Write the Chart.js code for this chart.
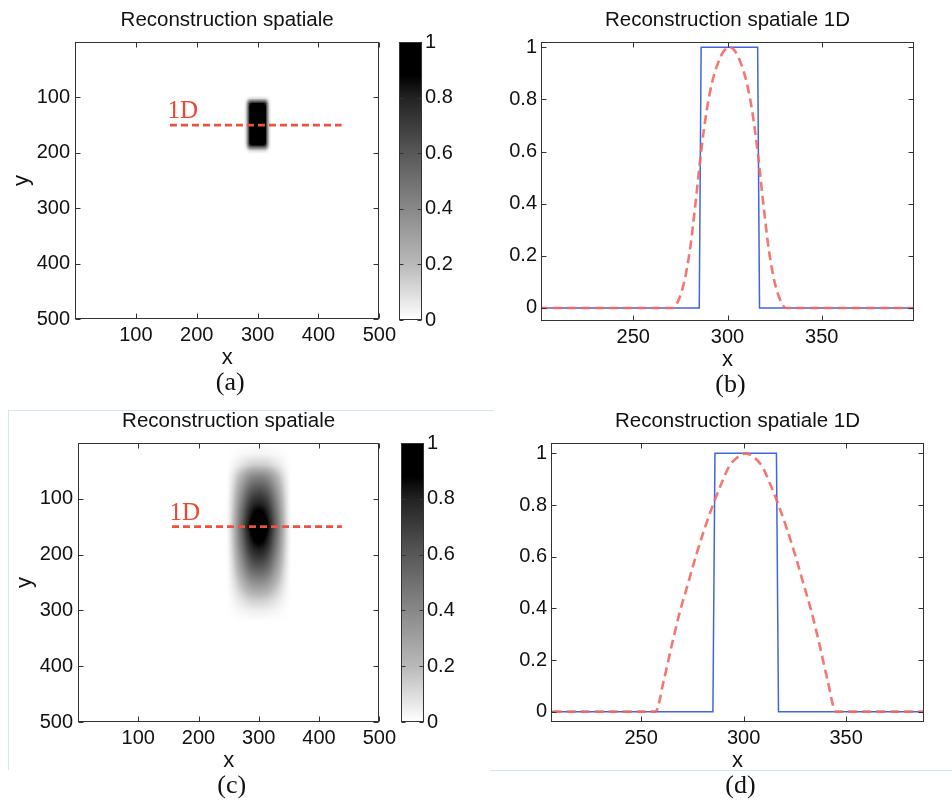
<!DOCTYPE html>
<html>
<head>
<meta charset="utf-8">
<title>Reconstruction spatiale</title>
<script src="https://cdn.jsdelivr.net/npm/chart.js@4.4.1/dist/chart.umd.min.js"></script>
<style>
  body { margin: 0; background: #fff; }
  #fig { position: relative; width: 952px; height: 800px; overflow: hidden; }
  #fig canvas { position: absolute; }
  .rule { position: absolute; background: #d3e6f1; }
</style>
</head>
<body>
<div id="fig">
  <div class="rule" style="left:8px;top:410px;width:486px;height:1px"></div>
  <div class="rule" style="left:8px;top:410px;width:1px;height:360px"></div>
  <div class="rule" style="left:490px;top:770px;width:462px;height:1px"></div>
  <canvas id="imgA" width="400" height="400" style="left:0;top:0"></canvas>
  <canvas id="barA" width="70" height="400" style="left:399px;top:0"></canvas>
  <canvas id="cutB" width="472" height="400" style="left:480px;top:0"></canvas>
  <canvas id="imgC" width="400" height="400" style="left:0;top:400px"></canvas>
  <canvas id="barC" width="70" height="400" style="left:401px;top:400px"></canvas>
  <canvas id="cutD" width="472" height="400" style="left:480px;top:400px"></canvas>
</div>
<script>
// ticks
const imgTicks = [100, 200, 300, 400, 500];
const cbarTicks = [0, 0.2, 0.4, 0.6, 0.8, 1];
const cutXTicks = [250, 300, 350];
const cutYTicks = [0, 0.2, 0.4, 0.6, 0.8, 1];

// dashed "1D" cut drawn on the images
const cutLineX = [156, 438];
const cutLineY = [150, 150];
const cutLabelAt = [152, 138];

// original object, 1D (blue)
const objX = [200, 285, 286, 316, 317, 400];
const objV = [0, 0, 1, 1, 0, 0];

// reconstruction 1D (b)
const bRedX = [200, 271, 274, 277, 280, 283, 286, 289, 292, 295, 298, 301, 304, 307, 310, 313, 316, 319, 322, 325, 328, 331, 400];
const bRedV = [0, 0, 0.03, 0.1, 0.22, 0.4, 0.6, 0.76, 0.87, 0.94, 0.985, 1, 0.985, 0.94, 0.87, 0.76, 0.6, 0.4, 0.22, 0.1, 0.03, 0, 0];

// reconstruction 1D (d)
const dRedX = [200, 257, 261, 265, 269, 273, 277, 281, 285, 289, 293, 297, 301, 305, 309, 313, 317, 321, 325, 329, 333, 337, 341, 345, 400];
const dRedV = [0, 0, 0.12, 0.26, 0.39, 0.5, 0.61, 0.71, 0.8, 0.88, 0.95, 0.985, 1, 0.985, 0.95, 0.88, 0.8, 0.71, 0.61, 0.5, 0.39, 0.26, 0.12, 0, 0];

// image (a): profiles along x and y
const aImgX = [277, 281, 284, 287, 291, 309, 313, 316, 319, 323];
const aImgXV = [0, 0.1, 0.45, 0.88, 1, 1, 0.88, 0.45, 0.1, 0];
const aImgY = [97, 102, 106, 111, 116, 182, 186, 191, 196, 202];
const aImgYV = [0, 0.1, 0.45, 0.88, 1, 1, 0.88, 0.45, 0.1, 0];

const cImgX = [246, 250, 256, 262, 268, 274, 280, 286, 292, 300, 308, 314, 320, 326, 332, 338, 344, 350, 354];
const cImgXV = [0, 0.04, 0.15, 0.3, 0.47, 0.62, 0.78, 0.9, 0.97, 1, 0.97, 0.9, 0.78, 0.62, 0.47, 0.3, 0.15, 0.04, 0];
const cImgY = [0, 20, 40, 60, 80, 100, 120, 150, 180, 200, 220, 240, 260, 280, 300, 320];
const cImgYV = [0, 0.03, 0.15, 0.42, 0.6, 0.75, 0.88, 1, 0.88, 0.76, 0.62, 0.46, 0.3, 0.15, 0.05, 0];

// grey colormap (value -> grey level)
const cmapV = [0, 0.2, 0.4, 0.6, 0.8, 0.88, 1];
const cmapG = [255, 185, 136, 88, 34, 0, 0];

Chart.defaults.font.family = '"Liberation Sans", Arial, sans-serif';
Chart.defaults.font.size = 20;
Chart.defaults.color = '#111';
Chart.defaults.animation = false;
Chart.defaults.plugins.legend.display = false;
Chart.defaults.plugins.tooltip.enabled = false;

function lerp(xs, vs, x) {
  if (x <= xs[0]) return vs[0];
  if (x >= xs[xs.length - 1]) return vs[vs.length - 1];
  let i = 1;
  while (xs[i] < x) i++;
  const t = (x - xs[i - 1]) / (xs[i] - xs[i - 1]);
  return vs[i - 1] + t * (vs[i] - vs[i - 1]);
}
function grey(v) { return Math.round(lerp(cmapV, cmapG, v)); }
function toXY(xs, vs) { return xs.map((x, i) => ({ x: x, y: vs[i] })); }
function fixTicks(list) { return s => { s.ticks = list.map(v => ({ value: v })); }; }

const noGrid = { display: false, drawTicks: false };

// paints the image inside the chart area, pixel by pixel, from the scales
function imageLayer(px, pv, qy, qv) {
  return {
    id: 'imageLayer',
    beforeDatasetsDraw(chart) {
      const { ctx, chartArea: a, scales } = chart;
      const w = Math.round(a.right - a.left), h = Math.round(a.bottom - a.top);
      const off = document.createElement('canvas');
      off.width = w; off.height = h;
      const octx = off.getContext('2d');
      const img = octx.createImageData(w, h);
      const cols = [], rows = [];
      for (let i = 0; i < w; i++) cols.push(lerp(px, pv, scales.x.getValueForPixel(a.left + i + 0.5)));
      for (let j = 0; j < h; j++) rows.push(lerp(qy, qv, scales.y.getValueForPixel(a.top + j + 0.5)));
      for (let j = 0; j < h; j++) {
        for (let i = 0; i < w; i++) {
          const g = grey(rows[j] * cols[i]);
          const k = 4 * (j * w + i);
          img.data[k] = img.data[k + 1] = img.data[k + 2] = g;
          img.data[k + 3] = 255;
        }
      }
      octx.putImageData(img, 0, 0);
      ctx.drawImage(off, a.left, a.top);
    }
  };
}

// box, inward ticks on all sides, panel title and letter
function frame(opt) {
  return {
    id: 'frame',
    afterDatasetsDraw(chart) {
      const { ctx, chartArea: a, scales } = chart;
      const L = Math.round(a.left) + 0.5, R = Math.round(a.right) - 0.5;
      const T = Math.round(a.top) + 0.5, B = Math.round(a.bottom) - 0.5;
      const tl = opt.tick || 5;
      ctx.save();
      ctx.strokeStyle = '#333';
      ctx.lineWidth = 1;
      ctx.strokeRect(L, T, R - L, B - T);
      ctx.beginPath();
      if (scales.x && scales.x.options.display) {
        scales.x.ticks.forEach(t => {
          const p = Math.round(scales.x.getPixelForValue(t.value)) + 0.5;
          ctx.moveTo(p, B); ctx.lineTo(p, B - tl);
          ctx.moveTo(p, T); ctx.lineTo(p, T + tl);
        });
      }
      scales.y.ticks.forEach(t => {
        const p = Math.round(scales.y.getPixelForValue(t.value)) + 0.5;
        ctx.moveTo(L, p); ctx.lineTo(L + tl, p);
        ctx.moveTo(R, p); ctx.lineTo(R - tl, p);
      });
      ctx.stroke();
      const cx = (a.left + a.right) / 2;
      ctx.fillStyle = '#111';
      ctx.textAlign = 'center';
      ctx.textBaseline = 'middle';
      if (opt.title) {
        ctx.font = '20.5px "Liberation Sans", Arial, sans-serif';
        ctx.fillText(opt.title, cx, a.top - 22);
      }
      if (opt.letter) {
        ctx.font = '26px "Liberation Serif", "Times New Roman", serif';
        ctx.fillText(opt.letter, cx + 3, a.bottom + 64);
      }
      if (opt.cutLabel) {
        ctx.font = '25px "Liberation Serif", "Times New Roman", serif';
        ctx.fillStyle = 'rgb(236,72,52)';
        ctx.textAlign = 'left';
        ctx.textBaseline = 'alphabetic';
        ctx.fillText('1D', scales.x.getPixelForValue(cutLabelAt[0]), scales.y.getPixelForValue(cutLabelAt[1]));
      }
      ctx.restore();
    }
  };
}

function imagePanel(id, geo, prof, letter) {
  new Chart(document.getElementById(id), {
    type: 'line',
    data: {
      datasets: [{
        data: toXY(cutLineX, cutLineY),
        borderColor: 'rgb(236,82,64)',
        borderWidth: 2.8,
        borderDash: [7, 4],
        pointRadius: 0
      }]
    },
    options: {
      responsive: false,
      layout: { padding: { left: 0, right: geo.right, top: geo.top, bottom: geo.bottom } },
      scales: {
        x: {
          type: 'linear', min: 0, max: 500,
          grid: noGrid, border: { display: false },
          afterBuildTicks: fixTicks(imgTicks),
          afterFit: s => { s.height = 52; },
          ticks: { padding: 4, maxRotation: 0, autoSkip: false },
          title: { display: true, text: 'x', font: { size: 22 }, padding: 0, color: '#111' }
        },
        y: {
          type: 'linear', min: 0, max: 500, reverse: true,
          grid: noGrid, border: { display: false },
          afterBuildTicks: fixTicks(imgTicks),
          afterFit: s => { s.width = geo.yw; },
          ticks: { padding: 5, autoSkip: false },
          title: { display: true, text: 'y', font: { size: 22 }, padding: { top: geo.yw - 66, bottom: 0 }, color: '#111' }
        }
      }
    },
    plugins: [imageLayer(prof[0], prof[1], prof[2], prof[3]),
              frame({ title: 'Reconstruction spatiale', letter: letter, cutLabel: true })]
  });
}

function colorBar(id, top, bottom) {
  new Chart(document.getElementById(id), {
    type: 'bar',
    data: {
      labels: [''],
      datasets: [{
        data: [[0, 1]],
        barPercentage: 1,
        categoryPercentage: 1,
        borderWidth: 0,
        backgroundColor: c => {
          const ch = c.chart;
          if (!ch.chartArea) return '#888';
          const y = ch.scales.y;
          const g = ch.ctx.createLinearGradient(0, y.getPixelForValue(0), 0, y.getPixelForValue(1));
          cmapV.forEach((v, i) => g.addColorStop(v, 'rgb(' + cmapG[i] + ',' + cmapG[i] + ',' + cmapG[i] + ')'));
          return g;
        }
      }]
    },
    options: {
      responsive: false,
      layout: { padding: { left: 0, right: 0, top: top, bottom: bottom } },
      scales: {
        x: { display: false },
        y: {
          position: 'right', min: 0, max: 1,
          grid: noGrid, border: { display: false },
          afterBuildTicks: fixTicks(cbarTicks),
          afterFit: s => { s.width = 47; },
          ticks: { padding: 3, autoSkip: false, callback: v => String(v) }
        }
      }
    },
    plugins: [frame({ tick: 4 })]
  });
}

function cutPanel(id, geo, redX, redV, letter) {
  new Chart(document.getElementById(id), {
    type: 'line',
    data: {
      datasets: [
        {
          data: toXY(redX, redV),
          borderColor: 'rgba(243,104,96,0.9)',
          borderWidth: 2.6,
          borderDash: [9, 5],
          cubicInterpolationMode: 'monotone',
          pointRadius: 0
        },
        {
          data: toXY(objX, objV),
          borderColor: 'rgb(64,102,222)',
          borderWidth: 1.5,
          pointRadius: 0
        }
      ]
    },
    options: {
      responsive: false,
      layout: { padding: { left: 0, right: geo.right, top: geo.top, bottom: geo.bottom } },
      scales: {
        x: {
          type: 'linear', min: geo.xmin, max: geo.xmax,
          grid: noGrid, border: { display: false },
          afterBuildTicks: fixTicks(cutXTicks),
          afterFit: s => { s.height = 52; },
          ticks: { padding: 4, maxRotation: 0, autoSkip: false },
          title: { display: true, text: 'x', font: { size: 22 }, padding: 0, color: '#111' }
        },
        y: {
          type: 'linear', min: geo.ymin, max: geo.ymax,
          grid: noGrid, border: { display: false },
          afterBuildTicks: fixTicks(cutYTicks),
          afterFit: s => { s.width = geo.yw; },
          ticks: { padding: 4, autoSkip: false, callback: v => String(v) }
        }
      }
    },
    plugins: [frame({ title: 'Reconstruction spatiale 1D', letter: letter })]
  });
}

document.addEventListener('DOMContentLoaded', function () {
  imagePanel('imgA', { right: 18, top: 42, bottom: 29, yw: 75 }, [aImgX, aImgXV, aImgY, aImgYV], '(a)');
  colorBar('barA', 42, 80);
  cutPanel('cutB', { right: 38, top: 42, bottom: 27, yw: 61, xmin: 201, xmax: 399, ymin: -0.05, ymax: 1.02 }, bRedX, bRedV, '(b)');

  imagePanel('imgC', { right: 16, top: 43, bottom: 26, yw: 78 }, [cImgX, cImgXV, cImgY, cImgYV], '(c)');
  colorBar('barC', 43, 78);
  cutPanel('cutD', { right: 28, top: 43, bottom: 26, yw: 71, xmin: 206, xmax: 388, ymin: -0.04, ymax: 1.04 }, dRedX, dRedV, '(d)');
});
</script>
</body>
</html>
